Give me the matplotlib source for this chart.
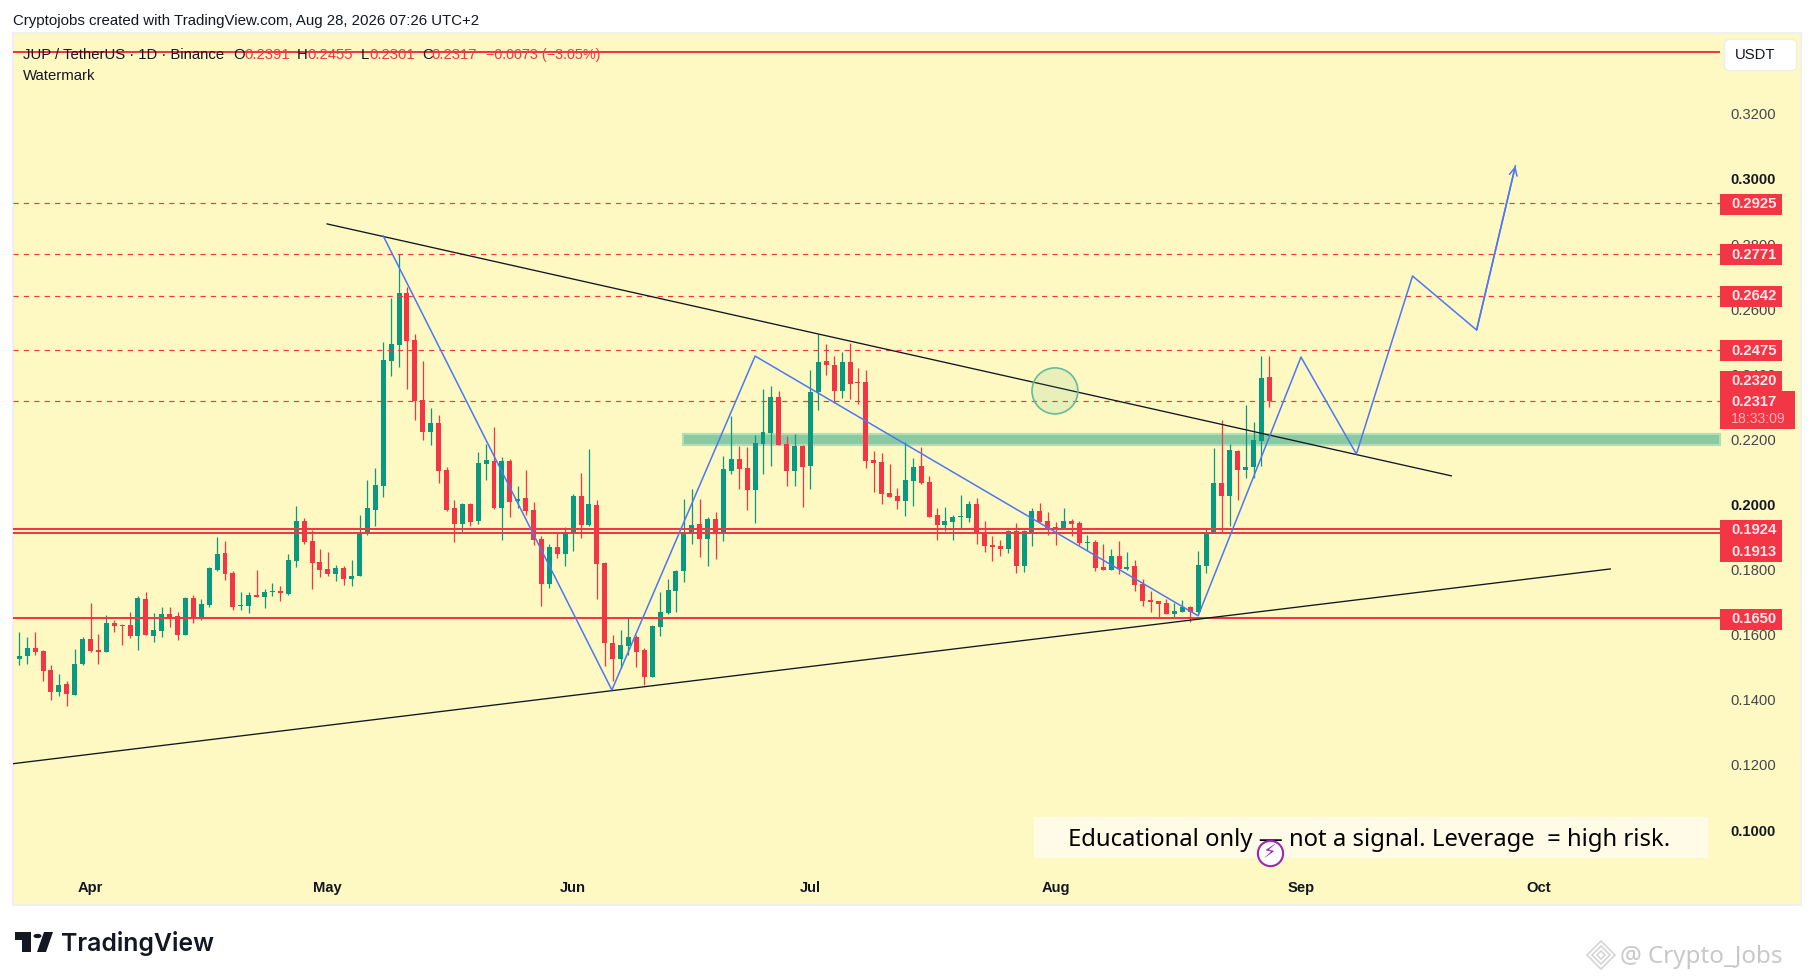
import numpy as np
import matplotlib
matplotlib.use("Agg")
import matplotlib.pyplot as plt
from matplotlib.patches import Rectangle, Ellipse, FancyBboxPatch, Polygon, Circle

# daily candles, 23 Mar -> 28 Aug
opens = [.1528,.1538,.1562,.1553,.1495,.1427,.1452,.1418,.1513,.1590,
         .1556,.1550,.1639,.1634,.1633,.1599,.1713,.1599,.1614,.1667,
         .1661,.1602,.1716,.1651,.1694,.1802,.1854,.1793,.1691,.1691,
         .1725,.1719,.1734,.1737,.1728,.1830,.1952,.1891,.1826,.1805,
         .1790,.1808,.1774,.1783,.1915,.1986,.2060,.2444,.2493,.2653,
         .2508,.2324,.2226,.2253,.2109,.1992,.1943,.2005,.1952,.2127,
         .2137,.1992,.2137,.2014,.2023,.1986,.1897,.1759,.1872,.1851,
         .1914,.2029,.1940,.2002,.1823,.1578,.1528,.1568,.1596,.1556,
         .1473,.1627,.1670,.1737,.1799,.1914,.1943,.1897,.1959,.1914,
         .2106,.2143,.2115,.2048,.2189,.2223,.2333,.2189,.2106,.2183,
         .2121,.2349,.2444,.2432,.2352,.2441,.2379,.2379,.2140,.2134,
         .2038,.2029,.2014,.2075,.2121,.2072,.1971,.1940,.1949,.1965,
         .1962,.2005,.1914,.1879,.1875,.1866,.1922,.1814,.1919,.1983,
         .1952,.1934,.1931,.1952,.1946,.1885,.1888,.1811,.1802,.1845,
         .1805,.1814,.1759,.1710,.1707,.1701,.1667,.1673,.1688,.1673,
         .1814,.1914,.2069,.2029,.2167,.2109,.2118,.2198,.2394]
closes = [.1538,.1562,.1550,.1492,.1427,.1449,.1421,.1513,.1590,.1553,
          .1550,.1639,.1630,.1631,.1599,.1716,.1602,.1618,.1667,.1654,
          .1602,.1716,.1654,.1697,.1808,.1851,.1790,.1688,.1694,.1725,
          .1719,.1734,.1737,.1731,.1833,.1952,.1888,.1823,.1802,.1790,
          .1808,.1774,.1783,.1919,.1992,.2063,.2447,.2496,.2653,.2505,
          .2321,.2226,.2253,.2106,.1986,.1943,.2005,.1949,.2131,.2140,
          .1992,.2137,.2011,.2020,.1983,.1894,.1759,.1872,.1851,.1919,
          .2029,.1940,.2005,.1820,.1578,.1528,.1572,.1596,.1550,.1473,
          .1630,.1673,.1740,.1799,.1914,.1940,.1897,.1959,.1914,.2112,
          .2143,.2112,.2048,.2192,.2226,.2333,.2186,.2106,.2183,.2118,
          .2349,.2441,.2432,.2352,.2441,.2373,.2376,.2137,.2131,.2035,
          .2026,.2014,.2078,.2118,.2069,.1965,.1940,.1952,.1965,.1968,
          .2005,.1914,.1875,.1872,.1866,.1922,.1814,.1922,.1983,.1949,
          .1928,.1928,.1952,.1943,.1885,.1888,.1808,.1802,.1845,.1805,
          .1811,.1756,.1707,.1704,.1697,.1667,.1676,.1688,.1673,.1817,
          .1919,.2069,.2029,.2170,.2109,.2118,.2201,.2392,.2320]
highs = [.1611,.1596,.1611,.1556,.1510,.1482,.1461,.1559,.1596,.1700,
         .1605,.1664,.1648,.1636,.1673,.1722,.1734,.1670,.1688,.1688,
         .1673,.1719,.1725,.1713,.1811,.1903,.1891,.1799,.1734,.1734,
         .1802,.1744,.1762,.1753,.1851,.1999,.1962,.1925,.1866,.1857,
         .1817,.1814,.1833,.1971,.2078,.2115,.2502,.2637,.2773,.2671,
         .2527,.2444,.2299,.2278,.2118,.2017,.2008,.2008,.2164,.2189,
         .2241,.2149,.2143,.2060,.2109,.2011,.1906,.1882,.1914,.1934,
         .2035,.2100,.2174,.2017,.1826,.1602,.1618,.1654,.1602,.1562,
         .1633,.1734,.1774,.1802,.2020,.2051,.2020,.1965,.1980,.2152,
         .2275,.2183,.2180,.2217,.2358,.2367,.2352,.2214,.2220,.2186,
         .2416,.2527,.2496,.2459,.2472,.2499,.2422,.2416,.2167,.2161,
         .2127,.2054,.2195,.2146,.2180,.2091,.1992,.1995,.1971,.2032,
         .2014,.2023,.1952,.1906,.1894,.1925,.1946,.1925,.1992,.2008,
         .1980,.1949,.1992,.1958,.1952,.1909,.1894,.1882,.1866,.1891,
         .1857,.1833,.1774,.1737,.1707,.1713,.1701,.1710,.1691,.1860,
         .1931,.2177,.2263,.2189,.2170,.2309,.2257,.2459,.2458]
lows = [.1510,.1513,.1541,.1461,.1403,.1415,.1384,.1418,.1510,.1550,
        .1513,.1550,.1611,.1571,.1593,.1556,.1602,.1581,.1596,.1627,
        .1587,.1602,.1639,.1648,.1688,.1799,.1771,.1679,.1679,.1670,
        .1719,.1685,.1722,.1707,.1725,.1811,.1882,.1743,.1780,.1783,
        .1768,.1756,.1753,.1783,.1909,.1937,.2026,.2398,.2425,.2358,
        .2263,.2201,.2186,.2069,.1983,.1888,.1915,.1937,.1943,.2078,
        .1989,.1894,.1965,.1992,.1971,.1879,.1691,.1747,.1839,.1814,
        .1860,.1900,.1937,.1713,.1507,.1461,.1501,.1541,.1504,.1448,
        .1473,.1599,.1667,.1673,.1765,.1882,.1842,.1814,.1835,.1891,
        .2097,.2051,.1986,.1946,.2097,.2121,.2186,.2060,.2060,.1995,
        .2051,.2293,.2401,.2314,.2330,.2327,.2312,.2115,.2042,.2005,
        .2026,.1989,.1968,.1999,.2066,.1965,.1894,.1921,.1894,.1928,
        .1949,.1882,.1857,.1829,.1845,.1854,.1793,.1796,.1875,.1949,
        .1909,.1879,.1931,.1906,.1879,.1863,.1799,.1802,.1802,.1789,
        .1802,.1737,.1691,.1673,.1658,.1667,.1658,.1673,.1642,.1667,
        .1793,.1914,.1919,.1937,.2017,.2085,.2085,.2121,.2304]

month_ticks = [9, 39, 70, 100, 131, 162, 192]
month_labels = ["Apr", "May", "Jun", "Jul", "Aug", "Sep", "Oct"]
price_ticks = [.10, .12, .14, .16, .18, .20, .22, .24, .26, .28, .30, .32]

solid_levels = [.3390, .1924, .1913, .1650]
dashed_levels = [.2925, .2771, .2642, .2475, .2317]
# price text, centre of its tag on the scale (the tags get pushed apart)
tag_prices = ["0.2925", "0.2771", "0.2642", "0.2475", "0.2320", "0.1924", "0.1913", "0.1650"]
tag_centers = [.2922, .2768, .2639, .2472, .2378, .1921, .1855, .1647]

wave_x = [46.0, 74.9, 93.0, 149.0, 156.0, 162.0, 169.0, 176.1, 184.2, 189.1]
wave_y = [.2825, .1430, .2456, .1658, .2085, .2453, .2155, .2702, .2536, .3040]
trend_down_x, trend_down_y = [38.9, 181.0], [.2862, .2088]
trend_up_x, trend_up_y = [-1.05, 201.1], [.1203, .1802]
zone_x, zone_y = [83.9, 214.9], [.2183, .2217]

# candle values were read about one pixel high
READ_OFFSET = .0003

RED = "#F23645"
GREEN = "#089981"
BLUE = "#4D78F2"
BLACK = "#131722"
BG = "#FEF8C2"
W, H = 1814, 980
FONT = "Liberation Sans"


def fx(x):
    return x / W


def fy(y):
    return 1 - y / H


def label(x, y, s, **kw):
    kw.setdefault("family", FONT)
    kw.setdefault("fontsize", 10.7)
    kw.setdefault("color", BLACK)
    kw.setdefault("va", "center")
    return fig.text(fx(x), fy(y), s, **kw)


def shape(points, **kw):
    fig.patches.append(Polygon([(fx(x), fy(y)) for x, y in points], closed=True,
                               transform=fig.transFigure, figure=fig, **kw))


fig = plt.figure(figsize=(W / 100, H / 100), dpi=100, facecolor="white")
ax = fig.add_axes([fx(12.5), fy(905), 1788.5 / W, 872 / H], facecolor=BG)
ax.set_xlim(-0.86, 225.2)
ax.set_ylim(.07696, .34485)
ax.set_axisbelow(True)
for s in ax.spines.values():
    s.set_color("#F0F0F0")
    s.set_linewidth(1.5)

idx = np.arange(len(opens))
opens, closes, highs, lows = [np.array(a) - READ_OFFSET for a in (opens, closes, highs, lows)]
colors = np.where(closes >= opens, GREEN, RED)

ax.add_patch(Rectangle((zone_x[0], zone_y[0]), zone_x[1] - zone_x[0], zone_y[1] - zone_y[0],
                       facecolor="#88CBA3", edgecolor="#B4DDB0", linewidth=1.5, zorder=1))
ax.vlines(idx, lows, highs, colors=colors, linewidth=0.9, zorder=2)
ax.bar(idx, np.maximum(np.abs(closes - opens), .0003), bottom=np.minimum(opens, closes),
       width=0.63, color=colors, linewidth=0, zorder=3)

for lvl in solid_levels:
    ax.plot([-0.86, 214.9], [lvl, lvl], color=RED, linewidth=1.45, zorder=4, solid_capstyle="butt")
for lvl in dashed_levels:
    ax.plot([-0.86, 214.9], [lvl, lvl], color=RED, linewidth=0.85, dashes=(4.4, 4.4), zorder=4)

ax.plot(trend_down_x, trend_down_y, color=BLACK, linewidth=0.95, zorder=5)
ax.plot(trend_up_x, trend_up_y, color=BLACK, linewidth=0.95, zorder=5)
ax.plot(wave_x, wave_y, color=BLUE, linewidth=1.1, zorder=6)
ax.annotate("", xy=(wave_x[-1], wave_y[-1]), xytext=(wave_x[-2], wave_y[-2]), zorder=6,
            arrowprops=dict(arrowstyle="->", color=BLUE, linewidth=1.1, shrinkA=0, shrinkB=0,
                            mutation_scale=14))

ax.add_patch(Ellipse((130.9, .2349), 5.8, .01413, facecolor="#4CAF7A", alpha=0.12, linewidth=0, zorder=5))
ax.add_patch(Ellipse((130.9, .2349), 5.8, .01413, facecolor="none", edgecolor="#66BB9A",
                     linewidth=1.2, zorder=5))

# axes ticks sit inside the panel like the TV price scale
ax.yaxis.tick_right()
ax.set_yticks(price_ticks)
ax.set_yticklabels([f"{p:.4f}" for p in price_ticks])
ax.set_xticks(month_ticks)
ax.set_xticklabels(month_labels)
ax.tick_params(axis="y", length=0, pad=-51, labelsize=10.6, labelcolor="#434651")
ax.tick_params(axis="x", length=0, pad=-17.5, labelsize=10.6, labelcolor=BLACK)
for t, p in zip(ax.get_yticklabels(), price_ticks):
    t.set_family(FONT)
    t.set_ha("left")
    if round(p * 10, 3) == round(p * 10):
        t.set_fontweight("bold")
        t.set_color(BLACK)
for t in ax.get_xticklabels():
    t.set_family(FONT)
    t.set_fontweight("bold")

# red tags on the scale
for txt, c in zip(tag_prices, tag_centers):
    ax.add_patch(Rectangle((215.0, c - .00323), 7.8, .00646, facecolor=RED, linewidth=0, zorder=7))
    ax.text(216.35, c, txt, color="#FFE8EA", fontsize=10.7, family=FONT, fontweight="bold",
            va="center", ha="left", zorder=8)
ax.add_patch(Rectangle((215.0, .2232), 9.5, .0117, facecolor=RED, linewidth=0, zorder=7))
ax.text(216.35, .2315, "0.2317", color="#FFE8EA", fontsize=10.7, family=FONT, fontweight="bold",
        va="center", ha="left", zorder=8)
ax.text(216.35, .2263, "18:33:09", color="#FFB3BA", fontsize=10.2, family=FONT,
        va="center", ha="left", zorder=8)

# note box and event marker
ax.add_patch(Rectangle((128.3, .0914), 85.1, .0126, facecolor="#FFFBE6", linewidth=0, zorder=7))
ax.text(170.6, .0969, "Educational only — not a signal. Leverage  = high risk.", fontsize=17.2,
        family="Noto Sans", color="black", ha="center", va="center", zorder=8)
ax.scatter([158.05], [.0929], s=330, facecolor="white", edgecolor="#9C27B0", linewidth=1.5, zorder=9)
ax.text(158.05, .0929, "\u26a1", color="#9C27B0", fontsize=14, family="DejaVu Sans",
        ha="center", va="center", zorder=10)

# USDT button
fig.patches.append(FancyBboxPatch((fx(1728), fy(67)), 65 / W, 24 / H, boxstyle="round,pad=0.002,rounding_size=0.003",
                                  transform=fig.transFigure, figure=fig, facecolor="white",
                                  edgecolor="#EDEDED", linewidth=1, zorder=3, mutation_aspect=W / H))
label(1735, 55, "USDT", zorder=4)

# header and legend
label(13, 21, "Cryptojobs created with TradingView.com, Aug 28, 2026 07:26 UTC+2", fontsize=10.8)
label(23, 55, "JUP / TetherUS · 1D · Binance")
label(233, 55, "O")
label(244, 55, "0.2391", color=RED)
label(297, 55, "H")
label(307, 55, "0.2455", color=RED)
label(361, 55, "L")
label(369, 55, "0.2301", color=RED)
label(422, 55, "C")
label(431, 55, "0.2317", color=RED)
label(486, 55, "−0.0073 (−3.05%)", color=RED, fontsize=10.4)
label(23, 76, "Watermark")

# TradingView logo
shape([(15, 932), (31, 932), (31, 952), (22, 952), (22, 940), (15, 940)], facecolor=BLACK, linewidth=0)
shape([(44, 932), (53, 932), (46, 952), (37, 952)], facecolor=BLACK, linewidth=0)
fig.patches.append(Circle((fx(37.5), fy(936)), 4 / W, transform=fig.transFigure, figure=fig,
                          facecolor=BLACK, linewidth=0))
label(61, 943, "TradingView", family="Inter", fontsize=17.9, fontweight="semibold")

# platform watermark
for r in (14, 9, 4):
    shape([(1601, 955 - r), (1601 + r, 955), (1601, 955 + r), (1601 - r, 955)],
          facecolor="none", edgecolor="#D4D4D4", linewidth=1.2)
label(1620, 957, "@ Crypto_Jobs", family="Noto Sans", fontsize=17.4, color="#C8C8C8")

fig.savefig("out.png", dpi=100)
